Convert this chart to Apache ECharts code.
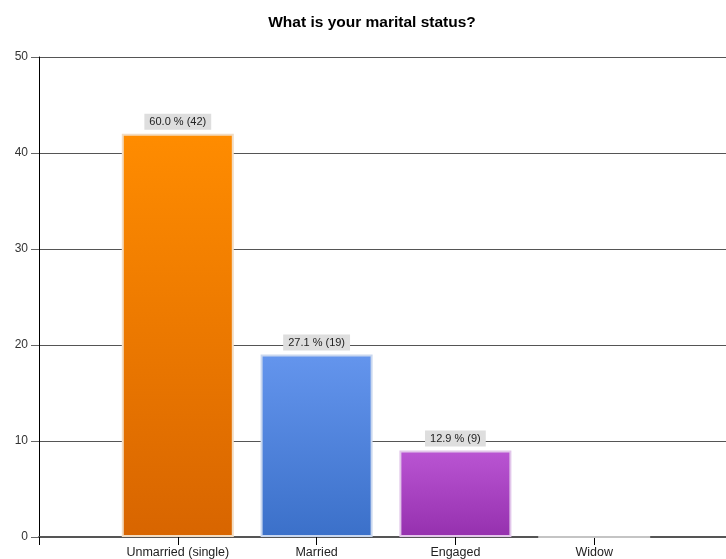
<!DOCTYPE html>
<html>
<head>
<meta charset="utf-8">
<script src="https://cdn.jsdelivr.net/npm/echarts@6/dist/echarts.min.js"></script>
<style>html,body{margin:0;padding:0;background:#fff;overflow:hidden;}#c{width:736px;height:559px;}</style>
</head>
<body>
<div id="c"></div>
<script>
const categories = ['', 'Unmarried (single)', 'Married', 'Engaged', 'Widow', ''];
const counts = [null, 42, 19, 9, 0, null];
const yTicks = [0, 10, 20, 30, 40, 50];
const barTop = ['#FF8C00', '#6495ED', '#BA55D3', '#bbbbbb'];
const barBottom = ['#D86500', '#3B70C9', '#9530AE', '#bbbbbb'];
const barBorder = ['#F2DCC2', '#C9D7EF', '#E2C6EA', '#c4c4c4'];

const total = counts.reduce((s, v) => s + (v || 0), 0);
const chart = echarts.init(document.getElementById('c'));
const data = counts.map((v, i) => {
  if (v === null) return null;
  const k = i - 1;
  return {
    value: v,
    itemStyle: {
      color: new echarts.graphic.LinearGradient(0, 0, 0, 1, [
        {offset: 0, color: barTop[k]}, {offset: 1, color: barBottom[k]}
      ]),
      borderColor: barBorder[k],
      borderWidth: 2
    },
    label: {show: v > 0}
  };
});
chart.setOption({
  animation: false,
  title: {
    text: 'What is your marital status?',
    left: 367, textAlign: 'center', top: 10,
    textStyle: {fontFamily: 'Liberation Sans', fontSize: 15.5, fontWeight: 'bold', color: '#000'}
  },
  grid: {left: 39, right: 0, top: 57, bottom: 22, containLabel: false},
  xAxis: {
    type: 'category',
    data: categories,
    boundaryGap: false,
    axisLine: {lineStyle: {color: '#555', width: 2}},
    axisTick: {show: true, length: 8, lineStyle: {color: '#000'}, interval: 0},
    axisLabel: {interval: 0, fontFamily: 'Liberation Sans', fontSize: 12.5, color: '#222', margin: 9},
    splitLine: {show: false}
  },
  yAxis: {
    type: 'value',
    min: yTicks[0], max: yTicks[yTicks.length - 1], interval: 10,
    axisLine: {show: true, lineStyle: {color: '#000', width: 1}},
    axisTick: {show: true, length: 8, lineStyle: {color: '#666'}},
    axisLabel: {fontFamily: 'Liberation Sans', fontSize: 12, color: '#333', margin: 11},
    splitLine: {show: true, lineStyle: {color: '#555', width: 1}}
  },
  series: [{
    type: 'bar',
    data: data,
    barWidth: 112,
    label: {
      show: true,
      position: 'top',
      distance: 4,
      formatter: p => (p.value / total * 100).toFixed(1) + ' % (' + p.value + ')',
      fontFamily: 'Liberation Sans', fontSize: 11, color: '#222',
      backgroundColor: '#dedede',
      padding: [3, 5, 2, 5]
    }
  }]
});
</script>
</body>
</html>
